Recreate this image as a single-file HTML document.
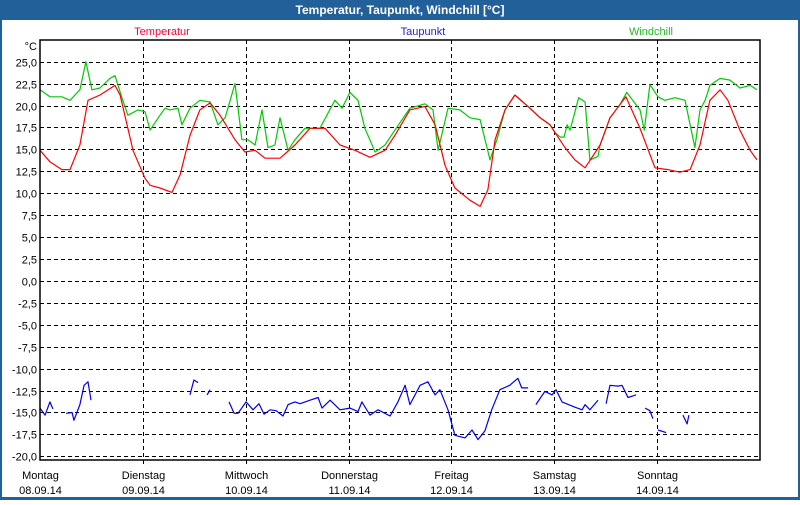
<!DOCTYPE html>
<html><head><meta charset="utf-8"><style>
html,body{margin:0;padding:0;background:#fff}
svg text{font-family:"Liberation Sans",sans-serif;font-size:11px}
</style></head><body>
<svg width="800" height="500" xmlns="http://www.w3.org/2000/svg">
<rect x="0" y="0" width="800" height="500" fill="#22609a"/>
<rect x="2" y="20" width="796" height="477" fill="#fff"/>
<text x="400" y="14" text-anchor="middle" fill="#fff" font-weight="bold" style="font-size:12px">Temperatur, Taupunkt, Windchill [°C]</text>
<text x="162" y="35" text-anchor="middle" fill="#ff0033">Temperatur</text>
<text x="423" y="35" text-anchor="middle" fill="#2222cc">Taupunkt</text>
<text x="651" y="35" text-anchor="middle" fill="#22bb22">Windchill</text>
<text x="37" y="50" text-anchor="end" fill="#000">°C</text>
<g id="grid"></g><g id="series"></g><g id="labels"></g>
<rect x="40" y="40" width="720" height="420" fill="none" stroke="#000" stroke-width="1.5"/>
</svg>
<script>
const yTicks=[25,22.5,20,17.5,15,12.5,10,7.5,5,2.5,0,-2.5,-5,-7.5,-10,-12.5,-15,-17.5,-20];
const dayNames=["Montag","Dienstag","Mittwoch","Donnerstag","Freitag","Samstag","Sonntag"];
const dayDates=["08.09.14","09.09.14","10.09.14","11.09.14","12.09.14","13.09.14","14.09.14"];
const tempHours=[0,2.3,5.1,7.0,9.3,11.2,14.0,17.5,18.7,21.7,24.5,25.7,28.0,30.8,32.7,35.0,37.3,39.7,42.0,45.5,47.8,50.2,52.5,56.0,59.5,63.0,66.5,70.0,73.5,77.0,80.5,82.8,86.3,89.8,92.2,94.5,96.8,100.3,102.7,104.5,106.2,108.5,110.8,114.3,116.7,119.0,120.2,122.5,124.8,127.2,130.7,133.0,135.3,136.7,140.0,143.5,146.5,149.3,151.7,154.0,156.3,158.7,160.5,163.3,165.7,167.3];
const tempValues=[14.9,13.6,12.7,12.7,15.5,20.6,21.2,22.3,21.2,14.9,11.7,10.9,10.6,10.1,12.1,16.6,19.5,20.3,18.9,16.1,14.7,14.9,14.0,14.0,15.5,17.4,17.4,15.5,14.9,14.1,14.9,16.6,19.5,19.9,17.8,13.2,10.6,9.2,8.5,10.4,16.1,19.5,21.2,19.7,18.6,17.8,16.9,15.2,13.8,12.9,15.5,18.6,20.1,21.0,17.4,12.9,12.7,12.4,12.7,15.5,20.6,21.8,20.6,17.2,14.9,13.8];
const windHours=[0,2.3,5.1,7.0,9.3,10.7,12.1,14.0,16.3,17.5,19.1,20.5,22.9,24.5,25.7,28.0,29.2,30.3,32.2,33.1,35.0,37.3,39.7,41.5,43.2,45.5,47.1,48.5,50.2,51.8,53.2,54.8,56.0,57.9,59.5,61.8,65.3,68.8,70.5,72.3,74.2,75.8,78.2,80.5,82.8,86.3,89.8,91.7,92.9,95.2,98.0,100.3,102.7,105.0,106.6,108.5,110.8,114.3,116.7,119.0,120.2,121.4,122.3,123.0,123.7,125.7,127.2,128.3,130.2,130.7,133.0,135.3,136.9,140.0,141.0,142.3,144.2,145.8,148.2,150.5,152.8,154.0,155.2,156.3,158.7,161.0,163.3,165.7,167.3];
const windValues=[21.8,21.0,21.0,20.6,21.8,25.0,21.8,22.0,23.1,23.4,20.9,18.9,19.5,19.3,17.2,18.9,19.7,19.5,19.7,17.8,19.7,20.6,20.4,17.8,18.6,22.5,16.1,16.1,15.5,19.5,15.2,15.5,18.6,14.9,16.1,17.4,17.4,20.6,19.7,21.5,20.6,17.4,14.7,15.5,17.2,19.7,20.2,19.5,14.9,19.7,19.5,18.6,18.4,13.8,16.1,19.5,21.2,19.7,18.6,17.8,16.9,16.4,16.4,17.8,17.2,20.9,20.4,13.8,14.2,15.5,18.6,20.1,21.5,19.5,17.2,22.4,21.0,20.6,20.9,20.6,15.2,19.5,20.6,22.3,23.1,22.9,22.0,22.3,21.8];
const dewHours=[0,1.2,2.3,3.0,null,6.1,7.5,7.9,9.3,10.3,11.2,11.9,null,35.0,35.9,36.9,null,39.0,39.7,null,44.1,45.3,46.2,48.1,49.7,51.1,52.3,53.7,55.1,56.7,57.9,59.5,60.7,63.0,64.9,65.8,67.7,70.0,72.3,74.2,75.1,77.0,78.9,81.7,83.5,85.2,86.3,88.7,90.5,92.2,93.3,95.2,96.8,99.2,100.8,102.2,103.8,105.4,107.3,109.6,111.5,112.4,113.9,null,115.7,117.8,119.5,120.4,121.8,124.8,126.5,127.2,128.3,130.2,null,132.1,133.0,134.9,135.8,137.2,139.1,null,141.2,142.3,143.0,null,144.2,146.1,null,150.0,151.0,151.4];
const dewValues=[-14.5,-15.3,-13.8,-14.6,null,-15.1,-15.0,-15.9,-14.1,-11.9,-11.5,-13.6,null,-13.0,-11.3,-11.6,null,-13.0,-12.4,null,-13.8,-15.1,-15.1,-13.8,-14.7,-14.0,-15.2,-14.7,-14.8,-15.4,-14.1,-13.8,-14.0,-13.6,-13.3,-14.5,-13.6,-14.7,-14.5,-14.9,-13.8,-15.3,-14.7,-15.4,-13.8,-11.9,-14.1,-11.9,-11.5,-13.0,-12.4,-14.7,-17.6,-17.9,-17.0,-18.1,-17.1,-14.7,-12.4,-11.9,-11.1,-12.2,-12.2,null,-14.1,-12.6,-13.0,-12.4,-13.8,-14.4,-14.7,-14.1,-14.7,-13.6,null,-14.0,-11.9,-12.0,-11.9,-13.3,-13.0,null,-14.5,-14.8,-15.7,null,-17.0,-17.3,null,-15.3,-16.3,-15.3];

const NS="http://www.w3.org/2000/svg";
const X0=40,X1=760,Y25=61.7,Ym20=456.3;
const xS=h=>X0+h*(X1-X0)/168;
const yS=v=>Y25+(25-v)*(Ym20-Y25)/45;
function mk(t,a,p){const e=document.createElementNS(NS,t);for(const k in a)e.setAttribute(k,a[k]);p.appendChild(e);return e;}
const grid=document.getElementById('grid'),ser=document.getElementById('series'),lab=document.getElementById('labels');
yTicks.forEach(v=>{
  const y=Math.round(yS(v))+0.5;
  const l=mk('line',{x1:X0,x2:X1,y1:y,y2:y,stroke:'#000','stroke-dasharray':'4,3'},grid);
  
  
  const t=mk('text',{x:37,y:y+4,'text-anchor':'end',fill:'#000'},lab);
  t.textContent=v.toFixed(1).replace('.',',');
  
  
});
dayNames.forEach((d,i)=>{
  const x=Math.round(xS(i*24))+0.5;
  if(i>0){const l=mk('line',{x1:x,x2:x,y1:40,y2:464,stroke:'#000','stroke-dasharray':'4,3'},grid);
  
  }
  const t=mk('text',{x:x,y:479,'text-anchor':'middle',fill:'#000'},lab);
  t.textContent=d;
  
  
  const t2=mk('text',{x:x,y:494,'text-anchor':'middle',fill:'#000'},lab);
  t2.textContent=dayDates[i];
  
  
});
function line(hs,vs,color,name){
  let d='',pen=false;
  for(let i=0;i<hs.length;i++){
    if(hs[i]===null||vs[i]===null){pen=false;continue;}
    d+=(pen?'L':'M')+xS(hs[i]).toFixed(1)+' '+yS(vs[i]).toFixed(1);pen=true;
  }
  const p=mk('path',{d:d,fill:'none',stroke:color,'stroke-width':1.2,'stroke-linejoin':'round'},ser);
  
  
}
line(windHours,windValues,'#00cc00','windchill-line');
line(tempHours,tempValues,'#ff0000','temperature-line');
line(dewHours,dewValues,'#0000ee','dewpoint-line');
</script>
</body></html>
